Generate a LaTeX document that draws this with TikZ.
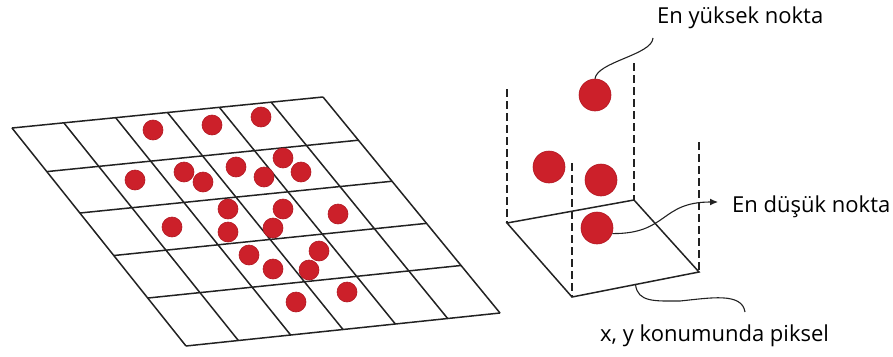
\documentclass[tikz,border=0pt]{standalone}
\usepackage{fontspec}
\setmainfont{Open Sans}
\usetikzlibrary{calc,arrows.meta}
\definecolor{dotred}{RGB}{204,32,42}
\definecolor{dotedge}{RGB}{178,24,34}
\definecolor{ink}{RGB}{34,34,34}
\begin{document}
\begin{tikzpicture}[x=1pt,y=-1pt,
  gridline/.style={draw=ink,line width=1.5pt},
  smalldot/.style={circle,fill=dotred,draw=dotedge,line width=0.6pt,minimum size=20pt,inner sep=0pt},
  bigdot/.style={circle,fill=dotred,draw=dotedge,line width=0.6pt,minimum size=32pt,inner sep=0pt},
  dashline/.style={draw=ink,line width=1.4pt,dash pattern=on 7.5pt off 4.5pt},
  baseedge/.style={draw=ink,line width=1.5pt},
  conn/.style={draw=ink,line width=1.1pt},
  lbl/.style={font=\fontsize{22}{26}\selectfont,text=black,inner sep=0pt,anchor=base west}]
\useasboundingbox (0,0) rectangle (893,356);

% ---------- left grid ----------
\coordinate (TL) at (12,128);
\coordinate (TR) at (323,97);
\coordinate (BR) at (500,313);
\coordinate (BL) at (186,346);
\foreach \r in {0,0.2,0.39,0.585,0.78,1}
  \draw[gridline] ($(TL)!\r!(BL)$) -- ($(TR)!\r!(BR)$);
\foreach \c in {0,0.1667,0.3333,0.5,0.6667,0.8333,1}
  \draw[gridline] ($(TL)!\c!(TR)$) -- ($(BL)!\c!(BR)$);

\foreach \x/\y [count=\i] in {153/130,212/125,261/117,283/158,184/172,236/167,301/172,
  135/180,203/182,264/177,228/209,283/209,338/214,172/227,228/232,273/228,
  319/251,249/255,273/269,309/270,347/292,296/302}
  \node[smalldot] (g\i) at (\x,\y) {};

% ---------- right: single pixel column ----------
\coordinate (L) at (507,223);
\coordinate (B) at (634,200);
\coordinate (R) at (699,272);
\coordinate (F) at (572,297);
\coordinate (Lt) at (507,89);
\coordinate (Bt) at (634,63);
\coordinate (Rt) at (699,142);
\coordinate (Ft) at (572,163);

\draw[dashline] (Lt) -- (L);
\draw[dashline] (Bt) -- (B);
\draw[dashline] (Rt) -- (R);
\draw[dashline] (Ft) -- (F);
\draw[baseedge] (L) -- (B) -- (R) -- (F) -- cycle;

\node[bigdot] (dA) at (595,95) {};
\node[bigdot] (dB) at (549,167) {};
\node[bigdot] (dC) at (601,180) {};
\node[bigdot] (dD) at (597,228) {};

% ---------- labels ----------
\node[lbl] (hi) at (657,23) {En yüksek nokta};
\node[lbl] (lo) at (732,212) {En düşük nokta};
\node[lbl] (px) at (600,341) {x, y konumunda piksel};

% ---------- connectors ----------
\coordinate (hiS) at ($(hi.base west)+(-4,15)$);
\draw[conn] (hiS) .. controls +(-1,17) and +(2,-17) .. (dA.north);

\coordinate (loT) at ($(lo.base west)+(-14,-10)$);
\draw[conn,-{Latex[length=8pt,width=7pt]}] (dD.-20) .. controls (668,234) and (660,202) .. (loT);

\coordinate (FRm) at ($(F)!0.5!(R)$);
\coordinate (pxM) at (680,301);
\coordinate (pxT) at (745,312);
\draw[conn] (FRm) .. controls +(2,18) and +(-25,0) .. (pxM)
            .. controls +(30,-3) and +(-3,-20) .. (pxT);
\end{tikzpicture}
\end{document}
